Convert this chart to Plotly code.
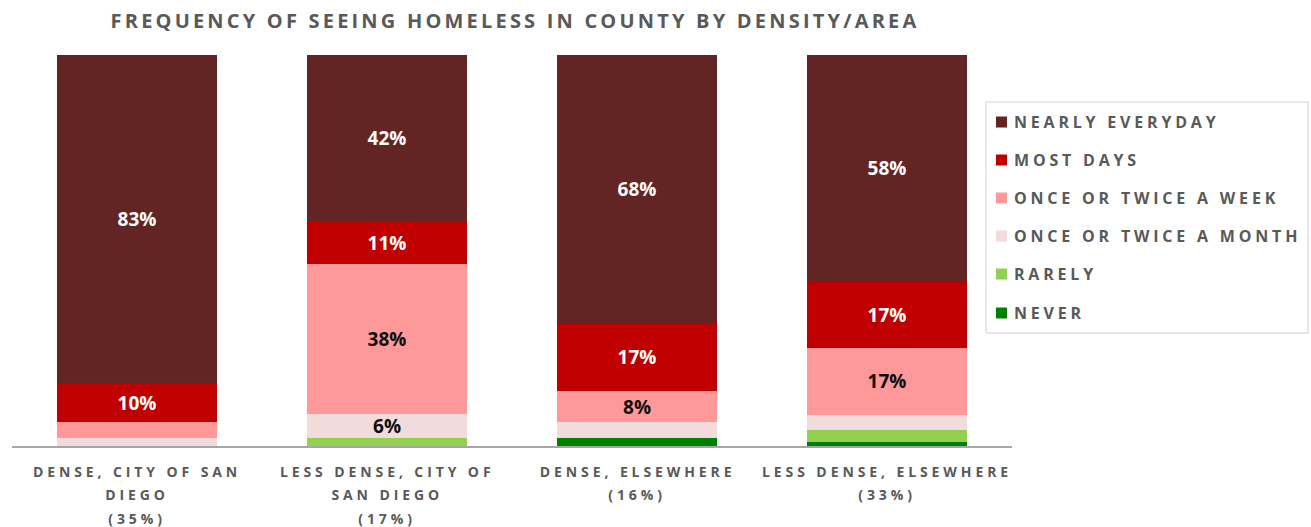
import plotly.graph_objects as go

# ---- data -------------------------------------------------------------
categories = [
    "Dense, City of San Diego",
    "Less Dense, City of San Diego",
    "Dense, Elsewhere",
    "Less Dense, Elsewhere",
]
category_label_lines = [
    ["DENSE, CITY OF SAN", "DIEGO", "(35%)"],
    ["LESS DENSE, CITY OF", "SAN DIEGO", "(17%)"],
    ["DENSE, ELSEWHERE", "(16%)"],
    ["LESS DENSE, ELSEWHERE", "(33%)"],
]

series_names = [
    "NEARLY EVERYDAY",
    "MOST DAYS",
    "ONCE OR TWICE A WEEK",
    "ONCE OR TWICE A MONTH",
    "RARELY",
    "NEVER",
]
nearly_everyday = [83, 42, 68, 58]
most_days = [10, 11, 17, 17]
once_twice_week = [4, 38, 8, 17]
once_twice_month = [2, 6, 4, 4]
rarely = [0, 2, 0, 3]
never = [0, 0, 2, 1]

title_text = "FREQUENCY OF SEEING HOMELESS IN COUNTY BY DENSITY/AREA"

# ---- styling ----------------------------------------------------------
series_values = [nearly_everyday, most_days, once_twice_week,
                 once_twice_month, rarely, never]
series_colors = ["#632523", "#C00000", "#FF9999", "#F2DCDB", "#92D050", "#008000"]
label_colors = ["#FFFFFF", "#FFFFFF", "#0D0D0D", "#0D0D0D", "#0D0D0D", "#0D0D0D"]
TEXT_GRAY = "#595959"
LABEL_MIN = 6  # segments smaller than this are left unlabelled

W, H = 1311, 527
M_L, M_R, M_T, M_B = 12, 299, 55, 81
PLOT_W = W - M_L - M_R
PLOT_H = H - M_T - M_B


def px_x(x):
    return (x - M_L) / PLOT_W


def px_y(y):
    return (H - M_B - y) / PLOT_H


fig = go.Figure()

# stack from the bottom (NEVER) up to NEARLY EVERYDAY
for name, vals, col, tcol in reversed(list(zip(series_names, series_values,
                                               series_colors, label_colors))):
    fig.add_trace(go.Bar(
        x=categories,
        y=vals,
        name=name,
        marker=dict(color=col, line=dict(width=0)),
        text=[f"{v}%" if v >= LABEL_MIN else "" for v in vals],
        textposition="inside",
        insidetextanchor="middle",
        textangle=0,
        constraintext="none",
        textfont=dict(family="Open Sans", size=19, color=tcol, weight="bold"),
        hoverinfo="skip",
        showlegend=False,
    ))

annotations = []
# category labels under the axis
for cat, lines in zip(categories, category_label_lines):
    for i, line in enumerate(lines):
        annotations.append(dict(
            x=cat, xref="x", y=0, yref="paper",
            yanchor="middle", xanchor="center", align="center",
            yshift=-25 - 23.5 * i,
            text=line, showarrow=False,
            font=dict(family="Open Sans", size=14, color=TEXT_GRAY, weight="bold"),
        ))
n_cat_annotations = len(annotations)

# legend: frame, swatches and labels
legend_rows = [122, 160, 198, 236, 274, 313]
shapes = [dict(
    type="rect", xref="paper", yref="paper",
    x0=px_x(986), x1=px_x(1308), y0=px_y(333), y1=px_y(102),
    line=dict(color="#D0D0D0", width=1), fillcolor="rgba(0,0,0,0)", layer="above",
)]
for name, col, row in zip(series_names, series_colors, legend_rows):
    shapes.append(dict(
        type="rect", xref="paper", yref="paper",
        x0=px_x(996), x1=px_x(1007), y0=px_y(row + 5.5), y1=px_y(row - 5.5),
        line=dict(width=0), fillcolor=col, layer="above",
    ))
    annotations.append(dict(
        x=px_x(1012), xref="paper", y=px_y(row), yref="paper",
        xanchor="left", yanchor="middle", align="left",
        text=name, showarrow=False,
        font=dict(family="Open Sans", size=16, color=TEXT_GRAY, weight="bold"),
    ))

fig.update_layout(
    width=W, height=H, autosize=False,
    margin=dict(l=M_L, r=M_R, t=M_T, b=M_B, pad=0),
    paper_bgcolor="white", plot_bgcolor="white",
    barmode="stack", barnorm="percent", bargap=0.36,
    title=dict(
        text=title_text, x=px_x(515), xref="paper", xanchor="center",
        y=1 - 21 / H, yref="container", yanchor="middle",
        font=dict(family="Open Sans", size=20, color=TEXT_GRAY, weight="bold"),
    ),
    xaxis=dict(showline=True, linecolor="#A6A6A6", linewidth=1.5,
               showticklabels=False, ticks="", showgrid=False, zeroline=False,
               fixedrange=True),
    yaxis=dict(range=[0, 100], visible=False, fixedrange=True),
    annotations=annotations,
    shapes=shapes,
    showlegend=False,
)

# widen the tracking of the capitalised headings and labels
TITLE_SPACING, CAT_SPACING, LEGEND_SPACING = 3.2, 3.9, 3.8
post_script = """
document.querySelectorAll('.gtitle').forEach(function (t) {
  t.style.letterSpacing = '%spx';
});
document.querySelectorAll('g.annotation').forEach(function (g) {
  var i = parseInt(g.getAttribute('data-index'));
  var t = g.querySelector('text');
  if (t) { t.style.letterSpacing = (i < %d ? '%spx' : '%spx'); }
});
""" % (TITLE_SPACING, n_cat_annotations, CAT_SPACING, LEGEND_SPACING)

fig.write_html("out.html", config={"displayModeBar": False},
               post_script=post_script)
